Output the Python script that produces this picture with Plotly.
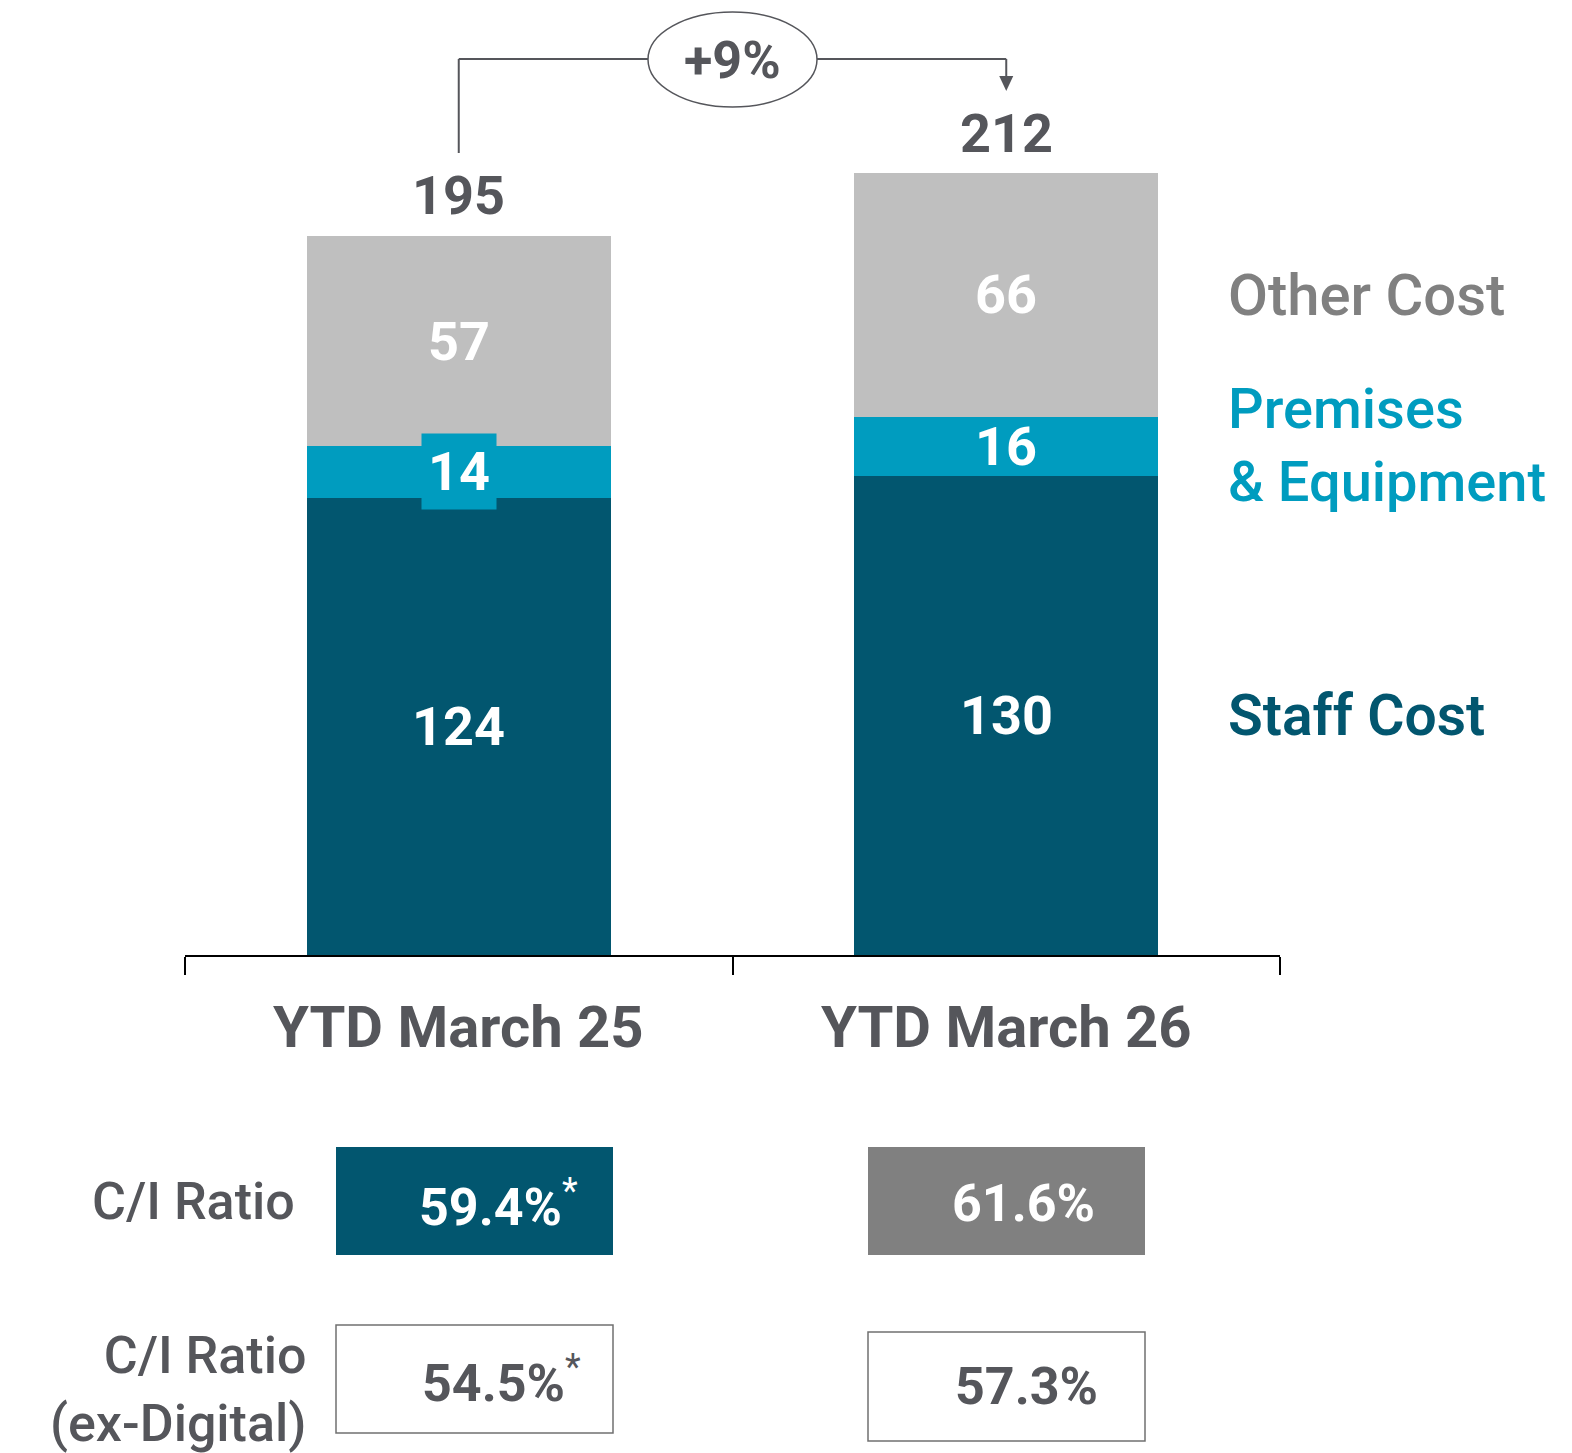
import plotly.graph_objects as go

# ---------------- data ----------------
categories = ["YTD March 25", "YTD March 26"]
staff_cost = [124, 130]
premises = [14, 16]
other_cost = [57, 66]
totals = [195, 212]
growth_label = "+9%"
ci_ratio = ["59.4%", "61.6%"]
ci_ratio_exdig = ["54.5%", "57.3%"]
ci_footnote = ["*", ""]
ci_exdig_footnote = ["*", ""]

# ---------------- styles ----------------
C_STAFF = "#02566F"
C_PREM = "#009CBF"
C_OTHER = "#BFBFBF"
C_TEXT = "#55565B"
C_GREY = "#808080"
FONT = "Roboto"

W, H = 1572, 1453
ML, MR, MT, MB = 185, 292, 0, 498
PW, PH = W - ML - MR, H - MT - MB
YMAX = 259.0


def xp(px):
    return (px - ML) / PW


def yp(py):
    return (H - MB - py) / PH


def ycat(py):
    return (H - MB - py) / PH * YMAX


def xcat(px):
    return (px - ML) / PW * 2 - 0.5


fig = go.Figure()
series = [("Staff Cost", staff_cost, C_STAFF),
          ("Premises & Equipment", premises, C_PREM),
          ("Other Cost", other_cost, C_OTHER)]
for name, vals, col in series:
    fig.add_trace(go.Bar(x=categories, y=vals, name=name, marker=dict(color=col, line=dict(width=0)),
                         width=0.555, showlegend=False, hoverinfo="skip"))

annotations = []
shapes = []


def ann(**kw):
    kw.setdefault("showarrow", False)
    kw.setdefault("xanchor", "center")
    kw.setdefault("yanchor", "middle")
    annotations.append(kw)


# segment labels
for i, cat in enumerate(categories):
    base = 0
    for name, vals, col in series:
        v = vals[i]
        mid = base + v / 2
        extra = {}
        if name.startswith("Premises") and v < 15:
            extra = dict(bgcolor=C_PREM, borderpad=6)
        ann(x=cat, y=mid, text=f"<b>{v}</b>", xref="x", yref="y",
            font=dict(family=FONT, size=54, color="white"), **extra)
        base += v
    ann(x=cat, y=totals[i], yshift=40, text=f"<b>{totals[i]}</b>", xref="x", yref="y",
        font=dict(family=FONT, size=54, color=C_TEXT))
    ann(x=cat, y=yp(1027), text=f"<b>{cat}</b>", xref="x", yref="paper",
        font=dict(family=FONT, size=58, color=C_TEXT))

# growth bracket
line_style = dict(color=C_TEXT, width=2)
y_top = ycat(59)
shapes.append(dict(type="line", xref="x", yref="y", x0=0, x1=0, y0=ycat(153), y1=y_top, line=line_style))
shapes.append(dict(type="line", xref="x", yref="y", x0=0, x1=xcat(650), y0=y_top, y1=y_top, line=line_style))
shapes.append(dict(type="line", xref="x", yref="y", x0=xcat(815), x1=1, y0=y_top, y1=y_top, line=line_style))
shapes.append(dict(type="line", xref="x", yref="y", x0=1, x1=1, y0=y_top, y1=ycat(78), line=line_style))
ax_c = 185 + 1.5 * PW / 2  # pixel x of second category centre
shapes.append(dict(type="path", xref="paper", yref="paper",
                   path=f"M {xp(ax_c - 7)} {yp(76)} L {xp(ax_c + 7)} {yp(76)} L {xp(ax_c)} {yp(91)} Z",
                   fillcolor=C_TEXT, line=dict(width=0)))
shapes.append(dict(type="circle", xref="x", yref="y", x0=xcat(648), x1=xcat(817), y0=ycat(107), y1=ycat(12),
                   line=dict(color=C_TEXT, width=1.5), fillcolor="white"))
ann(x=0.5, y=ycat(60), text=f"<b>{growth_label}</b>", xref="x", yref="y",
    font=dict(family=FONT, size=52, color=C_TEXT))

# right-side series labels
ann(x=xp(1226), y=yp(295), xanchor="left", text="Other Cost", xref="paper", yref="paper",
    font=dict(family=FONT, size=58, color="#808080", weight=500))
ann(x=xp(1226), y=yp(445), xanchor="left", text="Premises<br>& Equipment", xref="paper", yref="paper",
    align="left", font=dict(family=FONT, size=56, color=C_PREM, weight=500))
ann(x=xp(1226), y=yp(715), xanchor="left", text="Staff Cost", xref="paper", yref="paper",
    font=dict(family=FONT, size=57, color=C_STAFF, weight=600))

# C/I ratio table
ann(x=xp(297), y=yp(1201), xanchor="right", text="C/I Ratio", xref="paper", yref="paper",
    font=dict(family=FONT, size=52, color=C_TEXT, weight=500))
ann(x=xp(308), y=yp(1390), xanchor="right", text="C/I Ratio<br>(ex-Digital)", xref="paper", yref="paper",
    align="right", font=dict(family=FONT, size=52, color=C_TEXT, weight=500))

box_x = [(336, 613), (868, 1145)]
row1_y = [(1147, 1255), (1147, 1255)]
row2_y = [(1325, 1433), (1332, 1441)]
row1_fill = [C_STAFF, C_GREY]
text_left = [417, 950]
for i in range(2):
    x0, x1 = box_x[i]
    shapes.append(dict(type="rect", xref="paper", yref="paper", x0=xp(x0), x1=xp(x1),
                       y0=yp(row1_y[i][1]), y1=yp(row1_y[i][0]), fillcolor=row1_fill[i], line=dict(width=0)))
    shapes.append(dict(type="rect", xref="paper", yref="paper", x0=xp(x0), x1=xp(x1),
                       y0=yp(row2_y[i][1]), y1=yp(row2_y[i][0]), fillcolor="white",
                       line=dict(color="#707070", width=1.5)))
    sup1 = f"<sup>{ci_footnote[i]}</sup>" if ci_footnote[i] else ""
    sup2 = f"<sup>{ci_exdig_footnote[i]}</sup>" if ci_exdig_footnote[i] else ""
    ann(x=xp(text_left[i]), y=yp(sum(row1_y[i]) / 2 + 2), xanchor="left",
        text=f"<b>{ci_ratio[i]}</b>{sup1}", xref="paper", yref="paper",
        font=dict(family=FONT, size=52, color="white"))
    ann(x=xp(text_left[i] + 3), y=yp(sum(row2_y[i]) / 2), xanchor="left",
        text=f"<b>{ci_ratio_exdig[i]}</b>{sup2}", xref="paper", yref="paper",
        font=dict(family=FONT, size=52, color=C_TEXT))

fig.update_layout(
    barmode="stack",
    width=W, height=H,
    margin=dict(l=ML, r=MR, t=MT, b=MB, pad=0),
    paper_bgcolor="white", plot_bgcolor="white",
    showlegend=False,
    annotations=annotations,
    shapes=shapes,
    xaxis=dict(type="category", range=[-0.5, 1.5], showgrid=False, zeroline=False,
               showline=True, linecolor="black", linewidth=2,
               ticks="outside", ticklen=18, tickcolor="black", tickwidth=1.5,
               tickson="boundaries", showticklabels=False),
    yaxis=dict(range=[0, YMAX], visible=False, showgrid=False, zeroline=False),
    font=dict(family=FONT),
)

fig.write_html("out.html", config={"displayModeBar": False},
               post_script="document.body.style.margin='0';")
